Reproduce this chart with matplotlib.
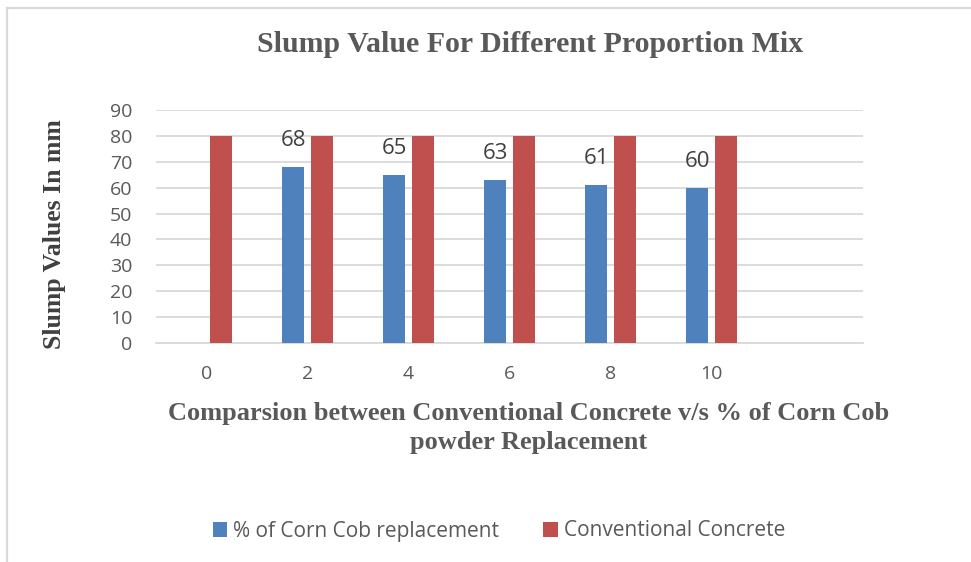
import numpy as np
import matplotlib.pyplot as plt
from matplotlib.patches import Patch, Rectangle

# chart data
categories = ["0", "2", "4", "6", "8", "10", ""]
corn_cob = [np.nan, 68, 65, 63, 61, 60, np.nan]
conventional = [80, 80, 80, 80, 80, 80, np.nan]
y_ticks = [0, 10, 20, 30, 40, 50, 60, 70, 80, 90]

blue = "#4F81BD"
red = "#C0504D"
grey_text = "#595959"

fig = plt.figure(figsize=(9.71, 5.62), dpi=100)

# light chart border (top and left edges visible)
fig.patches.append(Rectangle((7 / 971, -0.1), 1.2, 1 - 8 / 562 + 0.1,
                             transform=fig.transFigure, fill=False,
                             edgecolor="#D9D9D9", linewidth=1.6))

ax = fig.add_axes([156 / 971, 1 - 343 / 562, (863 - 156) / 971, (343 - 110) / 562])

x = np.arange(len(categories))
width = 0.223
shift = 0.143

ax.bar(x - shift, corn_cob, width, color=blue, zorder=3)
ax.bar(x + shift, conventional, width, color=red, zorder=3)

# value labels on the corn cob series
for xi, v in zip(x, corn_cob):
    if not np.isnan(v):
        ax.annotate(str(int(v)), (xi - shift, v), xytext=(0, 19),
                    textcoords="offset points", ha="center", va="center",
                    fontsize=16, color="#404040", family="Open Sans")

ax.set_xlim(-0.5, len(categories) - 0.5)
ax.set_ylim(0, 90)
ax.set_yticks(y_ticks)
ax.set_yticklabels([str(t) for t in y_ticks], fontsize=14, color=grey_text,
                   family="Open Sans")
ax.set_xticks(x)
ax.set_xticklabels(categories, fontsize=14, color=grey_text, family="Open Sans")
ax.tick_params(axis="both", length=0)
ax.tick_params(axis="y", pad=17)
ax.tick_params(axis="x", pad=16)

ax.grid(axis="y", color="#D9D9D9", linewidth=1.3, zorder=0)
for s in ["top", "right", "left"]:
    ax.spines[s].set_visible(False)
ax.spines["bottom"].set_color("#D9D9D9")
ax.spines["bottom"].set_linewidth(1.3)

fig.text(530 / 971, 1 - 45 / 562, "Slump Value For Different Proportion Mix",
         ha="center", va="center", fontsize=21.5, fontweight="bold",
         color=grey_text, family="Liberation Serif")

fig.text(54 / 971, 1 - 234 / 562, "Slump Values In mm", rotation=90,
         ha="center", va="center", fontsize=18.5, fontweight="bold",
         color="#404040", family="Liberation Serif")

fig.text(529 / 971, 1 - 428 / 562,
         "Comparsion between Conventional Concrete v/s % of Corn Cob\npowder Replacement",
         ha="center", va="center", fontsize=19, fontweight="bold",
         color=grey_text, family="Liberation Serif", linespacing=1.38)

handles = [Patch(facecolor=blue, label="% of Corn Cob replacement"),
           Patch(facecolor=red, label="Conventional Concrete")]
fig.legend(handles=handles, loc="center", bbox_to_anchor=(499 / 971, 1 - 531 / 562),
           ncol=2, frameon=False, handlelength=0.7, handleheight=0.7,
           handletextpad=0.3, columnspacing=2.1,
           prop={"family": "Open Sans", "size": 15}, labelcolor=grey_text)

fig.savefig("out.png", dpi=100)
